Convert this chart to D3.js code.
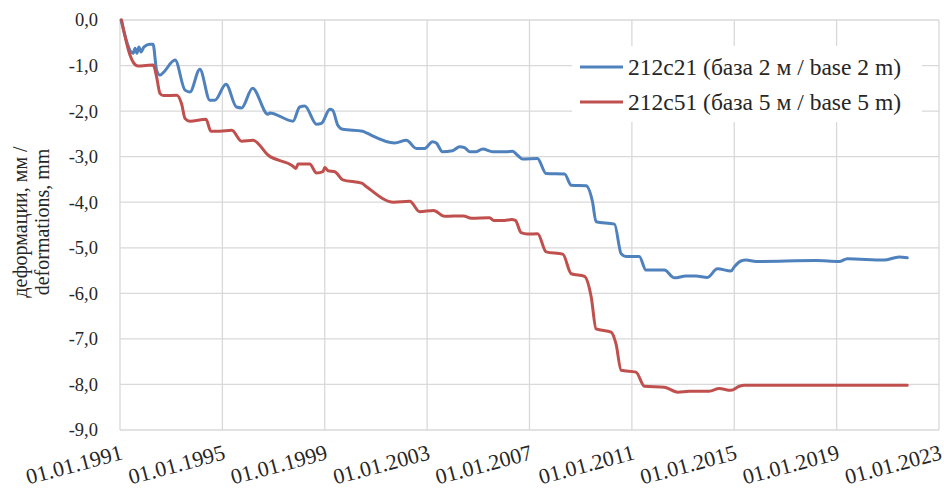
<!DOCTYPE html>
<html>
<head>
<meta charset="utf-8">
<script src="https://cdn.jsdelivr.net/npm/d3@7/dist/d3.min.js"></script>
<style>
  html, body { margin: 0; padding: 0; background: #fff; }
  svg { display: block; }
  svg text { font-family: "Liberation Serif", "DejaVu Serif", "Times New Roman", serif; fill: #262626; }
</style>
</head>
<body>
<svg id="chart" width="944" height="497" font-family="Liberation Serif, DejaVu Serif, serif"></svg>
<script>
// ---- data (decimal years, deformation in mm) ----
const seriesNames = ["212c21 (база 2 м / base 2 m)", "212c51 (база 5 м / base 5 m)"];
const seriesColors = ["#4f81bd", "#c0504d"];

const blueYears = [1991.04, 1991.51, 1991.59, 1991.66, 1991.74, 1991.82, 1991.94, 1992.17, 1992.29,
  1992.43, 1992.56, 1992.68, 1993.15, 1993.54, 1993.73, 1994.12, 1994.51, 1994.71, 1995.14,
  1995.55, 1995.75, 1996.18, 1996.78, 1996.85, 1997.76, 1998.02, 1998.22, 1998.68, 1998.87,
  1999.20, 1999.31, 1999.51, 1999.70, 2000.48, 2000.63, 2001.73, 2002.19, 2002.58, 2002.90,
  2003.21, 2003.36, 2003.60, 2003.99, 2004.27, 2004.46, 2004.66, 2004.92, 2005.17, 2005.56,
  2006.09, 2006.34, 2006.53, 2006.73, 2007.31, 2007.65, 2008.37, 2008.63, 2009.21, 2009.46,
  2009.60, 2010.32, 2010.58, 2010.77, 2011.29, 2011.55, 2012.27, 2012.66, 2013.11, 2013.50,
  2013.95, 2014.34, 2014.87, 2015.00, 2015.26, 2015.46, 2015.85, 2018.19, 2019.10, 2019.42,
  2020.85, 2021.44, 2021.76];
const blueValues = [0.00, -0.73, -0.62, -0.73, -0.59, -0.70, -0.59, -0.53, -0.53,
  -1.10, -1.21, -1.16, -0.88, -1.54, -1.58, -1.08, -1.76, -1.76, -1.41,
  -1.91, -1.93, -1.50, -2.07, -2.04, -2.22, -1.91, -1.89, -2.29, -2.27,
  -1.96, -1.98, -2.31, -2.40, -2.44, -2.48, -2.70, -2.64, -2.82, -2.82,
  -2.67, -2.70, -2.89, -2.87, -2.78, -2.80, -2.89, -2.89, -2.83, -2.89,
  -2.89, -2.88, -2.97, -3.05, -3.04, -3.37, -3.38, -3.63, -3.64, -3.99,
  -4.43, -4.48, -5.13, -5.19, -5.19, -5.49, -5.49, -5.66, -5.62, -5.62,
  -5.65, -5.46, -5.51, -5.42, -5.29, -5.27, -5.30, -5.28, -5.30, -5.24,
  -5.27, -5.20, -5.22];

const redYears = [1991.06, 1991.39, 1991.52, 1991.71, 1992.01, 1992.30, 1992.43, 1992.56, 1992.69,
  1993.22, 1993.41, 1993.54, 1993.73, 1994.36, 1994.55, 1994.90, 1995.37, 1995.75, 1996.20,
  1996.79, 1997.76, 1997.87, 1997.96, 1998.41, 1998.68, 1998.93, 1999.00, 1999.13, 1999.39,
  1999.71, 2000.44, 2000.63, 2001.69, 2002.32, 2002.71, 2003.25, 2003.68, 2004.42, 2004.73,
  2005.44, 2005.60, 2006.02, 2006.30, 2006.45, 2006.67, 2006.92, 2007.32, 2007.65, 2008.30,
  2008.63, 2009.15, 2009.41, 2009.60, 2010.19, 2010.38, 2010.58, 2011.16, 2011.49, 2012.27,
  2012.79, 2013.24, 2014.02, 2014.41, 2014.87, 2015.20, 2015.39, 2019.10, 2021.44, 2021.76];
const redValues = [0.00, -0.77, -0.93, -1.01, -1.00, -0.99, -1.25, -1.61, -1.66,
  -1.65, -1.85, -2.16, -2.22, -2.18, -2.44, -2.44, -2.42, -2.66, -2.64,
  -2.97, -3.21, -3.26, -3.16, -3.16, -3.36, -3.33, -3.24, -3.31, -3.33,
  -3.51, -3.58, -3.66, -4.00, -3.98, -4.21, -4.18, -4.31, -4.30, -4.35,
  -4.34, -4.40, -4.40, -4.38, -4.40, -4.67, -4.70, -4.69, -5.09, -5.14,
  -5.57, -5.63, -6.08, -6.78, -6.85, -7.11, -7.69, -7.73, -8.04, -8.06,
  -8.17, -8.15, -8.15, -8.09, -8.13, -8.04, -8.02, -8.02, -8.02, -8.02];

const yTicks = [0, -1, -2, -3, -4, -5, -6, -7, -8, -9];
const xTickYears = [1991, 1995, 1999, 2003, 2007, 2011, 2015, 2019, 2023];
const yTitleLines = ["деформации, мм /", "deformations, mm"];

// ---- helpers ----
function yearToDate(d) {
  const y = Math.floor(d);
  const s = new Date(y, 0, 1), e = new Date(y + 1, 0, 1);
  return new Date(+s + (d - y) * (e - s));
}
const locale = d3.formatLocale({decimal: ",", thousands: " ", grouping: [3], currency: ["", ""], minus: "-"});
const fmtY = locale.format(".1f");
const fmtX = d3.timeFormat("%d.%m.%Y");

// ---- layout ----
const svg = d3.select("#chart");
const L = 120, R = 939, T = 20, B = 430;
const x = d3.scaleTime().domain([new Date(1991, 0, 1), new Date(2023, 0, 1)]).range([L, R]);
const y = d3.scaleLinear().domain([-9, 0]).range([B, T]);
const gridColor = "#d9d9d9";
const serif = "Liberation Serif, DejaVu Serif, serif";

// gridlines
const g = svg.append("g");
g.selectAll("line.h").data(yTicks).enter().append("line")
  .attr("x1", L).attr("x2", R).attr("y1", d => y(d)).attr("y2", d => y(d))
  .attr("stroke", gridColor).attr("stroke-width", 1.3);
g.selectAll("line.v").data(xTickYears).enter().append("line")
  .attr("x1", d => x(new Date(d, 0, 1))).attr("x2", d => x(new Date(d, 0, 1)))
  .attr("y1", T).attr("y2", B)
  .attr("stroke", gridColor).attr("stroke-width", 1.3);

// y axis labels
svg.append("g").selectAll("text").data(yTicks).enter().append("text")
  .attr("x", 98).attr("y", d => y(d)).attr("dy", "0.35em")
  .attr("text-anchor", "end").attr("font-family", serif).style("font-size", "18.5px")
  .text(d => fmtY(d));

// x axis labels, rotated
svg.append("g").selectAll("text").data(xTickYears).enter().append("text")
  .attr("transform", d => `translate(${x(new Date(d, 0, 1)) + 4},${459}) rotate(-15)`)
  .attr("text-anchor", "end").attr("font-family", serif).style("font-size", "22px")
  .text(d => fmtX(new Date(d, 0, 1)));

// y title
const yt = svg.append("text").attr("transform", "translate(31,222) rotate(-90)")
  .attr("text-anchor", "middle").attr("font-family", serif).style("font-size", "20px");
yt.selectAll("tspan").data(yTitleLines).enter().append("tspan")
  .attr("x", 0).attr("dy", (d, i) => i === 0 ? "-0.2em" : "1.1em").text(d => d);

// lines
const line = d3.line().x(d => x(d.date)).y(d => y(d.v)).curve(d3.curveMonotoneX);
const series = [
  blueYears.map((yr, i) => ({date: yearToDate(yr), v: blueValues[i]})),
  redYears.map((yr, i) => ({date: yearToDate(yr), v: redValues[i]}))
];
series.forEach((s, i) => {
  svg.append("path").datum(s).attr("d", line)
    .attr("fill", "none").attr("stroke", seriesColors[i])
    .attr("stroke-width", 3).attr("stroke-linejoin", "round").attr("stroke-linecap", "round");
});

// legend
const lg = svg.append("g");
lg.append("rect").attr("x", 572).attr("y", 46).attr("width", 350).attr("height", 76).attr("fill", "#fff");
seriesNames.forEach((name, i) => {
  const cy = 67 + i * 35;
  lg.append("line").attr("x1", 580).attr("x2", 623).attr("y1", cy).attr("y2", cy)
    .attr("stroke", seriesColors[i]).attr("stroke-width", 3);
  lg.append("text").attr("x", 628).attr("y", cy).attr("dy", "0.35em")
    .attr("font-family", serif).style("font-size", "23.5px").text(name);
});
</script>
</body>
</html>
